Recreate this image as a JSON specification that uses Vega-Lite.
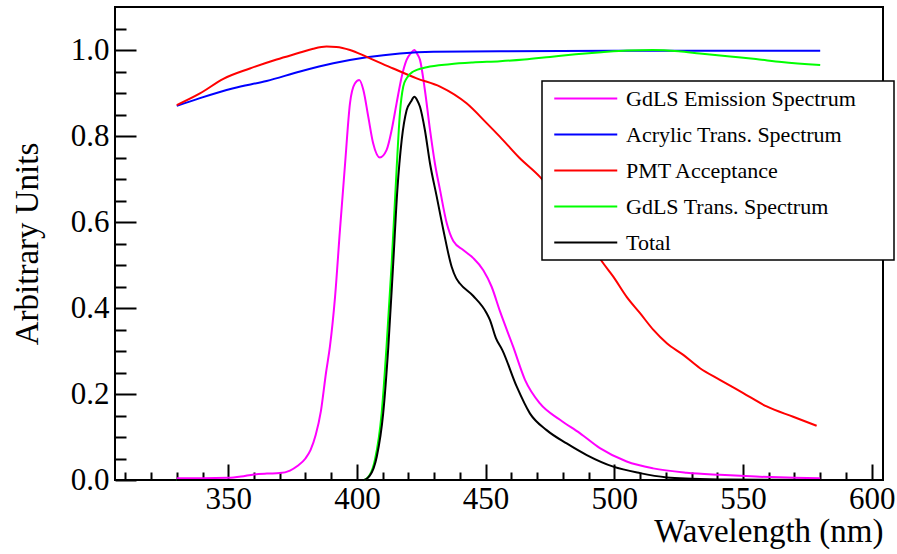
{
  "$schema": "https://vega.github.io/schema/vega-lite/v6.json",
  "width": 768,
  "height": 473,
  "autosize": {"type": "none"},
  "padding": {"left": 115, "top": 7, "right": 14, "bottom": 74},
  "background": "white",
  "config": {
    "view": {"stroke": "black", "strokeWidth": 2},
    "font": "Liberation Serif",
    "legend": {"strokeWidth": 1.5}
  },
  "data": {"values": [
    {"s":"GdLS Emission Spectrum","w":330,"v":0.004},{"s":"GdLS Emission Spectrum","w":340,"v":0.004},{"s":"GdLS Emission Spectrum","w":350,"v":0.005},{"s":"GdLS Emission Spectrum","w":355,"v":0.008},{"s":"GdLS Emission Spectrum","w":360,"v":0.013},{"s":"GdLS Emission Spectrum","w":365,"v":0.015},{"s":"GdLS Emission Spectrum","w":370,"v":0.016},{"s":"GdLS Emission Spectrum","w":374,"v":0.022},{"s":"GdLS Emission Spectrum","w":377,"v":0.033},{"s":"GdLS Emission Spectrum","w":380,"v":0.05},{"s":"GdLS Emission Spectrum","w":382,"v":0.07},{"s":"GdLS Emission Spectrum","w":384,"v":0.105},{"s":"GdLS Emission Spectrum","w":386,"v":0.16},{"s":"GdLS Emission Spectrum","w":388,"v":0.25},{"s":"GdLS Emission Spectrum","w":389.5,"v":0.31},{"s":"GdLS Emission Spectrum","w":391.5,"v":0.426},{"s":"GdLS Emission Spectrum","w":393.4,"v":0.581},{"s":"GdLS Emission Spectrum","w":395.4,"v":0.736},{"s":"GdLS Emission Spectrum","w":397.3,"v":0.876},{"s":"GdLS Emission Spectrum","w":399.2,"v":0.922},{"s":"GdLS Emission Spectrum","w":400.9,"v":0.93},{"s":"GdLS Emission Spectrum","w":402.5,"v":0.907},{"s":"GdLS Emission Spectrum","w":404.4,"v":0.845},{"s":"GdLS Emission Spectrum","w":406.3,"v":0.783},{"s":"GdLS Emission Spectrum","w":408.9,"v":0.75},{"s":"GdLS Emission Spectrum","w":411.5,"v":0.767},{"s":"GdLS Emission Spectrum","w":413.5,"v":0.814},{"s":"GdLS Emission Spectrum","w":415.4,"v":0.876},{"s":"GdLS Emission Spectrum","w":417.4,"v":0.938},{"s":"GdLS Emission Spectrum","w":419.3,"v":0.977},{"s":"GdLS Emission Spectrum","w":421,"v":0.993},{"s":"GdLS Emission Spectrum","w":422.3,"v":1.0},{"s":"GdLS Emission Spectrum","w":423.5,"v":0.99},{"s":"GdLS Emission Spectrum","w":424.5,"v":0.977},{"s":"GdLS Emission Spectrum","w":426.4,"v":0.907},{"s":"GdLS Emission Spectrum","w":428.4,"v":0.814},{"s":"GdLS Emission Spectrum","w":430.3,"v":0.736},{"s":"GdLS Emission Spectrum","w":432.3,"v":0.674},{"s":"GdLS Emission Spectrum","w":434.9,"v":0.597},{"s":"GdLS Emission Spectrum","w":437.5,"v":0.555},{"s":"GdLS Emission Spectrum","w":441.3,"v":0.535},{"s":"GdLS Emission Spectrum","w":445.2,"v":0.516},{"s":"GdLS Emission Spectrum","w":449.1,"v":0.488},{"s":"GdLS Emission Spectrum","w":452.3,"v":0.45},{"s":"GdLS Emission Spectrum","w":455.6,"v":0.392},{"s":"GdLS Emission Spectrum","w":460.7,"v":0.31},{"s":"GdLS Emission Spectrum","w":465.3,"v":0.233},{"s":"GdLS Emission Spectrum","w":471.1,"v":0.178},{"s":"GdLS Emission Spectrum","w":478.9,"v":0.14},{"s":"GdLS Emission Spectrum","w":486.6,"v":0.109},{"s":"GdLS Emission Spectrum","w":494.4,"v":0.074},{"s":"GdLS Emission Spectrum","w":504.8,"v":0.043},{"s":"GdLS Emission Spectrum","w":515.1,"v":0.027},{"s":"GdLS Emission Spectrum","w":528.1,"v":0.017},{"s":"GdLS Emission Spectrum","w":541,"v":0.012},{"s":"GdLS Emission Spectrum","w":555,"v":0.008},{"s":"GdLS Emission Spectrum","w":570,"v":0.005},{"s":"GdLS Emission Spectrum","w":580,"v":0.004},
    {"s":"Acrylic Trans. Spectrum","w":330,"v":0.87},{"s":"Acrylic Trans. Spectrum","w":339,"v":0.888},{"s":"Acrylic Trans. Spectrum","w":352,"v":0.911},{"s":"Acrylic Trans. Spectrum","w":364.9,"v":0.928},{"s":"Acrylic Trans. Spectrum","w":377.9,"v":0.95},{"s":"Acrylic Trans. Spectrum","w":390.8,"v":0.969},{"s":"Acrylic Trans. Spectrum","w":403.8,"v":0.983},{"s":"Acrylic Trans. Spectrum","w":416.7,"v":0.992},{"s":"Acrylic Trans. Spectrum","w":429.7,"v":0.996},{"s":"Acrylic Trans. Spectrum","w":455.6,"v":0.997},{"s":"Acrylic Trans. Spectrum","w":500,"v":0.998},{"s":"Acrylic Trans. Spectrum","w":540,"v":0.998},{"s":"Acrylic Trans. Spectrum","w":580,"v":0.998},
    {"s":"PMT Acceptance","w":330,"v":0.872},{"s":"PMT Acceptance","w":339,"v":0.899},{"s":"PMT Acceptance","w":348.1,"v":0.933},{"s":"PMT Acceptance","w":358.4,"v":0.957},{"s":"PMT Acceptance","w":368.8,"v":0.978},{"s":"PMT Acceptance","w":377.9,"v":0.994},{"s":"PMT Acceptance","w":383,"v":1.003},{"s":"PMT Acceptance","w":388.2,"v":1.008},{"s":"PMT Acceptance","w":392,"v":1.007},{"s":"PMT Acceptance","w":397.3,"v":1.0},{"s":"PMT Acceptance","w":403.8,"v":0.984},{"s":"PMT Acceptance","w":414.1,"v":0.957},{"s":"PMT Acceptance","w":423.2,"v":0.934},{"s":"PMT Acceptance","w":432.3,"v":0.915},{"s":"PMT Acceptance","w":442.6,"v":0.876},{"s":"PMT Acceptance","w":450.4,"v":0.83},{"s":"PMT Acceptance","w":455.6,"v":0.798},{"s":"PMT Acceptance","w":463,"v":0.75},{"s":"PMT Acceptance","w":471.1,"v":0.705},{"s":"PMT Acceptance","w":480,"v":0.64},{"s":"PMT Acceptance","w":488,"v":0.575},{"s":"PMT Acceptance","w":495.7,"v":0.504},{"s":"PMT Acceptance","w":499.6,"v":0.473},{"s":"PMT Acceptance","w":504.8,"v":0.426},{"s":"PMT Acceptance","w":510,"v":0.388},{"s":"PMT Acceptance","w":515.2,"v":0.349},{"s":"PMT Acceptance","w":520.4,"v":0.318},{"s":"PMT Acceptance","w":526.8,"v":0.291},{"s":"PMT Acceptance","w":533.3,"v":0.26},{"s":"PMT Acceptance","w":541,"v":0.233},{"s":"PMT Acceptance","w":550.1,"v":0.202},{"s":"PMT Acceptance","w":559.2,"v":0.171},{"s":"PMT Acceptance","w":569.5,"v":0.147},{"s":"PMT Acceptance","w":578.6,"v":0.126},
    {"s":"GdLS Trans. Spectrum","w":330,"v":0},{"s":"GdLS Trans. Spectrum","w":402.5,"v":0},{"s":"GdLS Trans. Spectrum","w":405,"v":0.012},{"s":"GdLS Trans. Spectrum","w":407,"v":0.047},{"s":"GdLS Trans. Spectrum","w":409.6,"v":0.155},{"s":"GdLS Trans. Spectrum","w":411.5,"v":0.31},{"s":"GdLS Trans. Spectrum","w":413.5,"v":0.504},{"s":"GdLS Trans. Spectrum","w":415.4,"v":0.721},{"s":"GdLS Trans. Spectrum","w":416.7,"v":0.853},{"s":"GdLS Trans. Spectrum","w":418,"v":0.915},{"s":"GdLS Trans. Spectrum","w":419.3,"v":0.934},{"s":"GdLS Trans. Spectrum","w":421.9,"v":0.95},{"s":"GdLS Trans. Spectrum","w":427.1,"v":0.96},{"s":"GdLS Trans. Spectrum","w":436.1,"v":0.967},{"s":"GdLS Trans. Spectrum","w":445,"v":0.971},{"s":"GdLS Trans. Spectrum","w":455.6,"v":0.974},{"s":"GdLS Trans. Spectrum","w":465,"v":0.978},{"s":"GdLS Trans. Spectrum","w":475,"v":0.984},{"s":"GdLS Trans. Spectrum","w":485,"v":0.99},{"s":"GdLS Trans. Spectrum","w":495,"v":0.995},{"s":"GdLS Trans. Spectrum","w":505,"v":0.999},{"s":"GdLS Trans. Spectrum","w":515,"v":1.0},{"s":"GdLS Trans. Spectrum","w":525,"v":0.997},{"s":"GdLS Trans. Spectrum","w":533.2,"v":0.992},{"s":"GdLS Trans. Spectrum","w":545,"v":0.985},{"s":"GdLS Trans. Spectrum","w":555,"v":0.979},{"s":"GdLS Trans. Spectrum","w":565,"v":0.972},{"s":"GdLS Trans. Spectrum","w":580,"v":0.965},
    {"s":"Total","w":330,"v":0},{"s":"Total","w":402.5,"v":0},{"s":"Total","w":405,"v":0.01},{"s":"Total","w":407.7,"v":0.054},{"s":"Total","w":410.2,"v":0.155},{"s":"Total","w":412.2,"v":0.31},{"s":"Total","w":414.1,"v":0.504},{"s":"Total","w":415.7,"v":0.674},{"s":"Total","w":417.4,"v":0.791},{"s":"Total","w":419.3,"v":0.86},{"s":"Total","w":421,"v":0.88},{"s":"Total","w":422.3,"v":0.891},{"s":"Total","w":423.5,"v":0.882},{"s":"Total","w":424.5,"v":0.868},{"s":"Total","w":426.4,"v":0.814},{"s":"Total","w":428.4,"v":0.736},{"s":"Total","w":431,"v":0.659},{"s":"Total","w":433.6,"v":0.581},{"s":"Total","w":436.8,"v":0.496},{"s":"Total","w":438.5,"v":0.47},{"s":"Total","w":440,"v":0.457},{"s":"Total","w":445.2,"v":0.428},{"s":"Total","w":450.4,"v":0.388},{"s":"Total","w":451.7,"v":0.372},{"s":"Total","w":454,"v":0.33},{"s":"Total","w":456.5,"v":0.302},{"s":"Total","w":462.1,"v":0.217},{"s":"Total","w":467.2,"v":0.155},{"s":"Total","w":473.7,"v":0.116},{"s":"Total","w":481.5,"v":0.085},{"s":"Total","w":489.3,"v":0.058},{"s":"Total","w":499.6,"v":0.031},{"s":"Total","w":510,"v":0.016},{"s":"Total","w":520.4,"v":0.006},{"s":"Total","w":530,"v":0.003},{"s":"Total","w":545,"v":0.001},{"s":"Total","w":580,"v":0}
  ]},
  "resolve": {"axis": {"x": "independent", "y": "independent"}},
  "layer": [
    {
      "mark": {"type": "line", "strokeWidth": 2, "interpolate": "monotone"},
      "encoding": {
        "x": {"field": "w", "type": "quantitative",
          "scale": {"domain": [306, 604.4], "nice": false, "zero": false},
          "axis": {"orient": "bottom", "values": [350, 400, 450, 500, 550, 600], "ticks": false, "domain": false, "grid": false,
            "labelFont": "Liberation Serif", "labelFontSize": 31, "labelColor": "black", "labelPadding": 4, "labelOverlap": false, "labelFlush": false, "labelBound": false,
            "title": "Wavelength (nm)", "titleFont": "Liberation Serif", "titleFontSize": 33, "titleFontWeight": "normal", "titleColor": "black", "titleAnchor": "end", "titlePadding": 1}},
        "y": {"field": "v", "type": "quantitative",
          "scale": {"domain": [0, 1.1], "nice": false},
          "axis": {"orient": "left", "values": [0, 0.2, 0.4, 0.6, 0.8, 1.0], "format": ".1f", "ticks": false, "domain": false, "grid": false,
            "labelFont": "Liberation Serif", "labelFontSize": 31, "labelColor": "black", "labelPadding": 6, "labelOverlap": false, "labelFlush": false, "labelBound": false,
            "title": "Arbitrary Units", "titleFont": "Liberation Serif", "titleFontSize": 33, "titleFontWeight": "normal", "titleColor": "black", "titlePadding": 26}},
        "color": {"field": "s", "type": "nominal",
          "scale": {"domain": ["GdLS Emission Spectrum", "Acrylic Trans. Spectrum", "PMT Acceptance", "GdLS Trans. Spectrum", "Total"],
                    "range": ["#ff00ff", "#0000ff", "#ff0000", "#00ff00", "#000000"]},
          "legend": {"orient": "none", "legendX": 427, "legendY": 74, "title": null,
            "symbolType": "M-0.5,0H5.5", "symbolSize": 441, "symbolStrokeWidth": 2,
            "labelFont": "Liberation Serif", "labelFontSize": 22, "labelColor": "black", "labelOffset": 55, "labelLimit": 0,
            "labelExpr": "datum.label + '\u2800\u2800'",
            "rowPadding": 13, "padding": 6, "strokeColor": "black", "fillColor": "white"}}
      }
    },
    {
      "mark": {"type": "point", "opacity": 0},
      "encoding": {
        "x": {"field": "w", "type": "quantitative",
          "axis": {"orient": "bottom", "values": [350, 400, 450, 500, 550, 600], "labels": false, "domain": false, "grid": false, "tickSize": -16, "tickWidth": 2, "tickColor": "black", "title": null}},
        "y": {"field": "v", "type": "quantitative",
          "axis": {"orient": "left", "values": [0, 0.2, 0.4, 0.6, 0.8, 1.0], "labels": false, "domain": false, "grid": false, "tickSize": -21, "tickWidth": 2, "tickColor": "black", "title": null}}
      }
    },
    {
      "mark": {"type": "point", "opacity": 0},
      "encoding": {
        "x": {"field": "w", "type": "quantitative",
          "axis": {"orient": "bottom", "values": [310, 320, 330, 340, 360, 370, 380, 390, 410, 420, 430, 440, 460, 470, 480, 490, 510, 520, 530, 540, 560, 570, 580, 590], "labels": false, "domain": false, "grid": false, "tickSize": -8, "tickWidth": 2, "tickColor": "black", "title": null}},
        "y": {"field": "v", "type": "quantitative",
          "axis": {"orient": "left", "values": [0.05, 0.1, 0.15, 0.25, 0.3, 0.35, 0.45, 0.5, 0.55, 0.65, 0.7, 0.75, 0.85, 0.9, 0.95, 1.05], "labels": false, "domain": false, "grid": false, "tickSize": -11, "tickWidth": 2, "tickColor": "black", "title": null}}
      }
    }
  ]
}
